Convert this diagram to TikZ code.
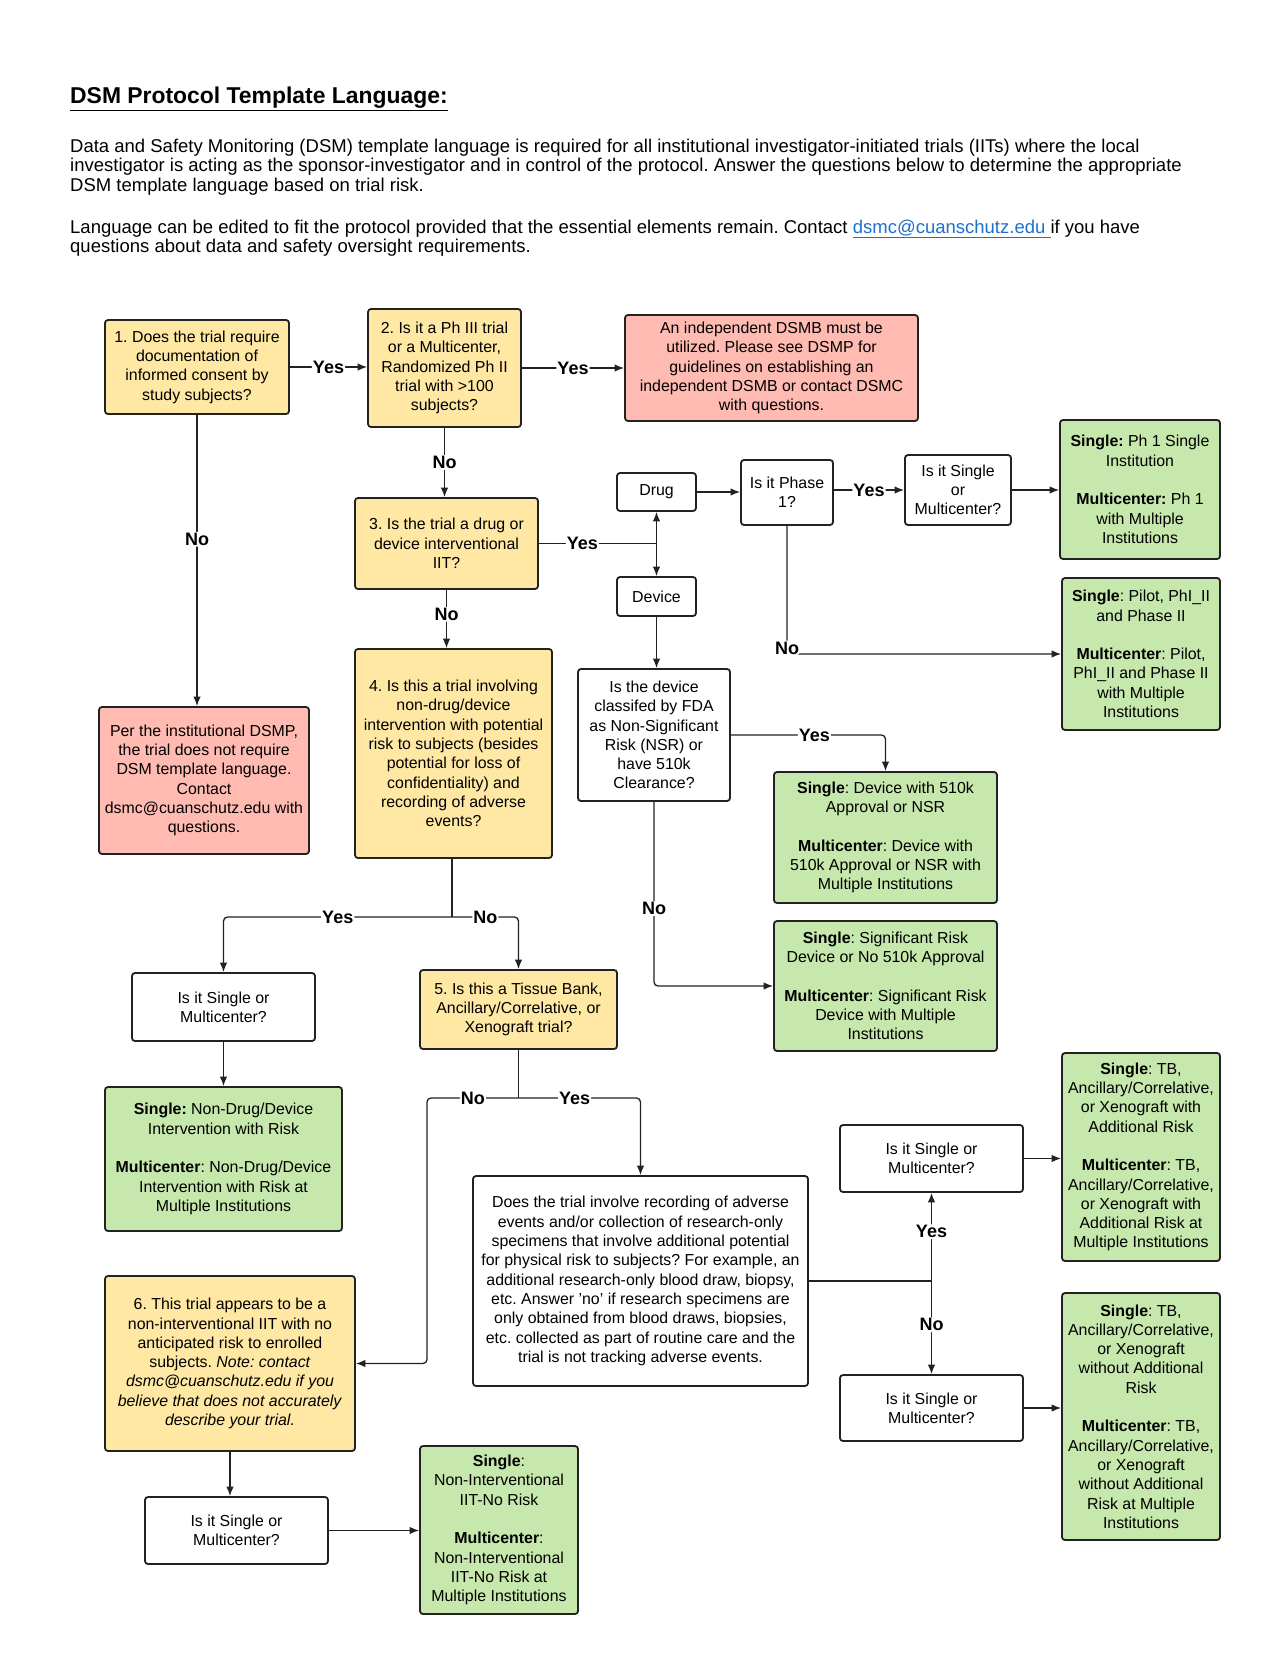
\documentclass[tikz,border=0pt]{standalone}
\usepackage{fontspec}
\setmainfont{Liberation Sans}
\usetikzlibrary{arrows.meta,calc}
\frenchspacing
\definecolor{ycol}{HTML}{FFE8A3}
\definecolor{rcol}{HTML}{FFBAB2}
\definecolor{gcol}{HTML}{C7E8AC}
\definecolor{linkblue}{HTML}{1F6FD0}
\definecolor{edge}{HTML}{222222}
\newcommand{\bxfont}{\fontsize{15.9}{19.3}\selectfont}
\tikzset{
  box/.style={draw=edge, line width=1.8pt, rounded corners=3pt, align=center, inner sep=2pt, font=\bxfont},
  ybox/.style={box, fill=ycol},
  rbox/.style={box, fill=rcol},
  gbox/.style={box, fill=gcol},
  wbox/.style={box, fill=white},
  arr/.style={draw=edge, line width=1.3pt, rounded corners=4pt, -{Latex[length=9.5pt,width=7.5pt]}},
  ln/.style={draw=edge, line width=1.3pt, rounded corners=4pt},
  lbl/.style={fill=white, inner sep=1pt, font=\bfseries\fontsize{18}{20}\selectfont},
}
\begin{document}
\begin{tikzpicture}[x=1pt,y=-1pt]
\fill[white] (0,0) rectangle (1285,1680);
\useasboundingbox (0,0) rectangle (1285,1680);

% header
\node[anchor=west, inner sep=0pt, font=\bfseries\fontsize{22.9}{26}\selectfont] (title) at (70,99) {\underline{DSM Protocol Template Language:}};
\node[anchor=north west, inner sep=0pt, align=left, font=\fontsize{18.5}{19.8}\selectfont] (para1) at (70,138.5)
{Data and Safety Monitoring (DSM) template language is required for all institutional investigator-initiated trials (IITs) where the local\\
investigator is acting as the sponsor-investigator and in control of the protocol. Answer the questions below to determine the appropriate\\
DSM template language based on trial risk.};
\node[anchor=north west, inner sep=0pt, align=left, font=\fontsize{18.5}{19.8}\selectfont] (para2) at (70,219.5)
{Language can be edited to fit the protocol provided that the essential elements remain. Contact \textcolor{linkblue}{\underline{dsmc@cuanschutz.edu }}if you have\\
questions about data and safety oversight requirements.};

% nodes
\node[ybox, minimum width=184, minimum height=94] (B1) at (197,367)
{1. Does the trial require\\documentation of\\informed consent by\\study subjects?};
\node[ybox, minimum width=153, minimum height=118] (B2) at (444.5,368)
{2. Is it a Ph III trial\\or a Multicenter,\\Randomized Ph II\\trial with >100\\subjects?};
\node[rbox, minimum width=293, minimum height=106] (DSMB) at (771.5,368)
{An independent DSMB must be\\utilized. Please see DSMP for\\guidelines on establishing an\\independent DSMB or contact DSMC\\with questions.};
\node[ybox, minimum width=183, minimum height=91] (B3) at (446.5,543.5)
{3. Is the trial a drug or\\device interventional\\IIT?};
\node[wbox, minimum width=79, minimum height=38] (Drug) at (656.5,492) {Drug};
\node[wbox, minimum width=79, minimum height=39] (Device) at (656.5,596.5) {Device};
\node[wbox, minimum width=92, minimum height=65] (Ph1) at (787,492.5) {Is it Phase\\1?};
\node[wbox, minimum width=106, minimum height=70] (S1) at (958,490) {Is it Single\\or\\Multicenter?};
\node[gbox, minimum width=160, minimum height=139] (G1) at (1140,489.5)
{\textbf{Single:} Ph 1 Single\\Institution\\[19.3pt]\textbf{Multicenter:} Ph 1\\with Multiple\\Institutions};
\node[gbox, minimum width=158, minimum height=152] (G2) at (1141,654)
{\textbf{Single}: Pilot, PhI\_II\\and Phase II\\[19.3pt]\textbf{Multicenter}: Pilot,\\PhI\_II and Phase II\\with Multiple\\Institutions};
\node[rbox, minimum width=210, minimum height=147] (NoDSM) at (204,780.5)
{Per the institutional DSMP,\\the trial does not require\\DSM template language.\\Contact\\dsmc@cuanschutz.edu with\\questions.};
\node[ybox, minimum width=197, minimum height=209] (B4) at (453.5,753.5)
{4. Is this a trial involving\\non-drug/device\\intervention with potential\\risk to subjects (besides\\potential for loss of\\confidentiality) and\\recording of adverse\\events?};
\node[wbox, minimum width=152, minimum height=132] (FDA) at (654,735)
{Is the device\\classifed by FDA\\as Non-Significant\\Risk (NSR) or\\have 510k\\Clearance?};
\node[gbox, minimum width=223, minimum height=131] (G3) at (885.5,837.5)
{\textbf{Single}: Device with 510k\\Approval or NSR\\[19.3pt]\textbf{Multicenter}: Device with\\510k Approval or NSR with\\Multiple Institutions};
\node[gbox, minimum width=223, minimum height=130] (G4) at (885.5,986)
{\textbf{Single}: Significant Risk\\Device or No 510k Approval\\[19.3pt]\textbf{Multicenter}: Significant Risk\\Device with Multiple\\Institutions};
\node[wbox, minimum width=183, minimum height=68] (S4) at (223.5,1007) {Is it Single or\\Multicenter?};
\node[ybox, minimum width=197, minimum height=79] (B5) at (518.5,1009.5)
{5. Is this a Tissue Bank,\\Ancillary/Correlative, or\\Xenograft trial?};
\node[gbox, minimum width=237, minimum height=144] (G5) at (223.5,1159)
{\textbf{Single:} Non-Drug/Device\\Intervention with Risk\\[19.3pt]\textbf{Multicenter}: Non-Drug/Device\\Intervention with Risk at\\Multiple Institutions};
\node[wbox, minimum width=335, minimum height=210] (BigQ) at (640.5,1281)
{Does the trial involve recording of adverse\\events and/or collection of research-only\\specimens that involve additional potential\\for physical risk to subjects? For example, an\\additional research-only blood draw, biopsy,\\etc. Answer 'no' if research specimens are\\only obtained from blood draws, biopsies,\\etc. collected as part of routine care and the\\trial is not tracking adverse events.};
\node[wbox, minimum width=183, minimum height=67] (S5u) at (931.5,1158.5) {Is it Single or\\Multicenter?};
\node[wbox, minimum width=183, minimum height=66] (S5l) at (931.5,1408) {Is it Single or\\Multicenter?};
\node[gbox, minimum width=158, minimum height=208] (G6) at (1141,1157)
{\textbf{Single}: TB,\\Ancillary/Correlative,\\or Xenograft with\\Additional Risk\\[19.3pt]\textbf{Multicenter}: TB,\\Ancillary/Correlative,\\or Xenograft with\\Additional Risk at\\Multiple Institutions};
\node[gbox, minimum width=158, minimum height=247] (G7) at (1141,1416.5)
{\textbf{Single}: TB,\\Ancillary/Correlative,\\or Xenograft\\without Additional\\Risk\\[19.3pt]\textbf{Multicenter}: TB,\\Ancillary/Correlative,\\or Xenograft\\without Additional\\Risk at Multiple\\Institutions};
\node[ybox, minimum width=250, minimum height=175] (B6) at (230,1363.5)
{6. This trial appears to be a\\non-interventional IIT with no\\anticipated risk to enrolled\\subjects. \textit{Note: contact}\\\textit{dsmc@cuanschutz.edu if you}\\\textit{believe that does not accurately}\\\textit{describe your trial.}};
\node[wbox, minimum width=183, minimum height=67] (S6) at (236.5,1530.5) {Is it Single or\\Multicenter?};
\node[gbox, minimum width=158, minimum height=168] (G8) at (499,1530)
{\textbf{Single}:\\Non-Interventional\\IIT-No Risk\\[19.3pt]\textbf{Multicenter}:\\Non-Interventional\\IIT-No Risk at\\Multiple Institutions};

% junction coordinates
\coordinate (j1) at (B3.east -| Drug.south);
\coordinate (j2) at ($(B4.south |- 0,917)+(-1.5,0)$);
\coordinate (j3) at (B5.south |- 0,1098);
\coordinate (c1) at (427,1230);
\coordinate (j4) at (BigQ.east -| S5u.south);

% connectors
\draw[arr] (B1.east) -- node[lbl]{Yes} (B1.east -| B2.west);
\draw[arr] (B2.east) -- node[lbl]{Yes} (B2.east -| DSMB.west);
\draw[arr] (B2.south) -- node[lbl]{No} (B2.south |- B3.north);
\draw[arr] (B1.south) -- node[lbl,pos=0.427]{No} (B1.south |- NoDSM.north);
\draw[ln] (B3.east) -- node[lbl,pos=0.37]{Yes} (j1);
\draw[arr] (j1) -- (Drug.south);
\draw[arr] (j1) -- (Device.north);
\draw[arr] (Drug.east) -- (Drug.east -| Ph1.west);
\draw[arr] (Ph1.east |- S1.west) -- node[lbl]{Yes} (S1.west);
\draw[arr] (S1.east) -- (S1.east -| G1.west);
\draw[arr] (Ph1.south) |- node[lbl,pos=0.5,yshift=6pt]{No} (G2.west);
\draw[arr] (Device.south) -- (Device.south |- FDA.north);
\draw[arr] (B3.south) -- node[lbl,pos=0.42]{No} (B3.south |- B4.north);
\draw[arr] (FDA.east) -| node[lbl,pos=0.27]{Yes} (G3.north);
\draw[arr] (FDA.south) |- node[lbl,pos=0.29]{No} (G4.west);
\draw[ln] ($(B4.south)+(-1.5,0)$) -- (j2);
\draw[arr] (j2) -| node[lbl,pos=0.25]{Yes} (S4.north);
\draw[arr] (j2) -| node[lbl,pos=0.25]{No} (B5.north);
\draw[arr] (S4.south) -- (G5.north);
\draw[ln] (B5.south) -- (j3);
\draw[arr] (j3) -| node[lbl,pos=0.25]{No} (c1) |- (B6.east);
\draw[arr] (j3) -| node[lbl,pos=0.23]{Yes} (BigQ.north);
\draw[ln] (BigQ.east) -- (j4);
\draw[arr] (j4) -- node[lbl,pos=0.56]{Yes} (S5u.south);
\draw[arr] (j4) -- node[lbl,pos=0.47]{No} (S5l.north);
\draw[arr] (S5u.east) -- (S5u.east -| G6.west);
\draw[arr] (S5l.east) -- (S5l.east -| G7.west);
\draw[arr] (B6.south) -- (B6.south |- S6.north);
\draw[arr] (S6.east) -- (S6.east -| G8.west);
\end{tikzpicture}
\end{document}
